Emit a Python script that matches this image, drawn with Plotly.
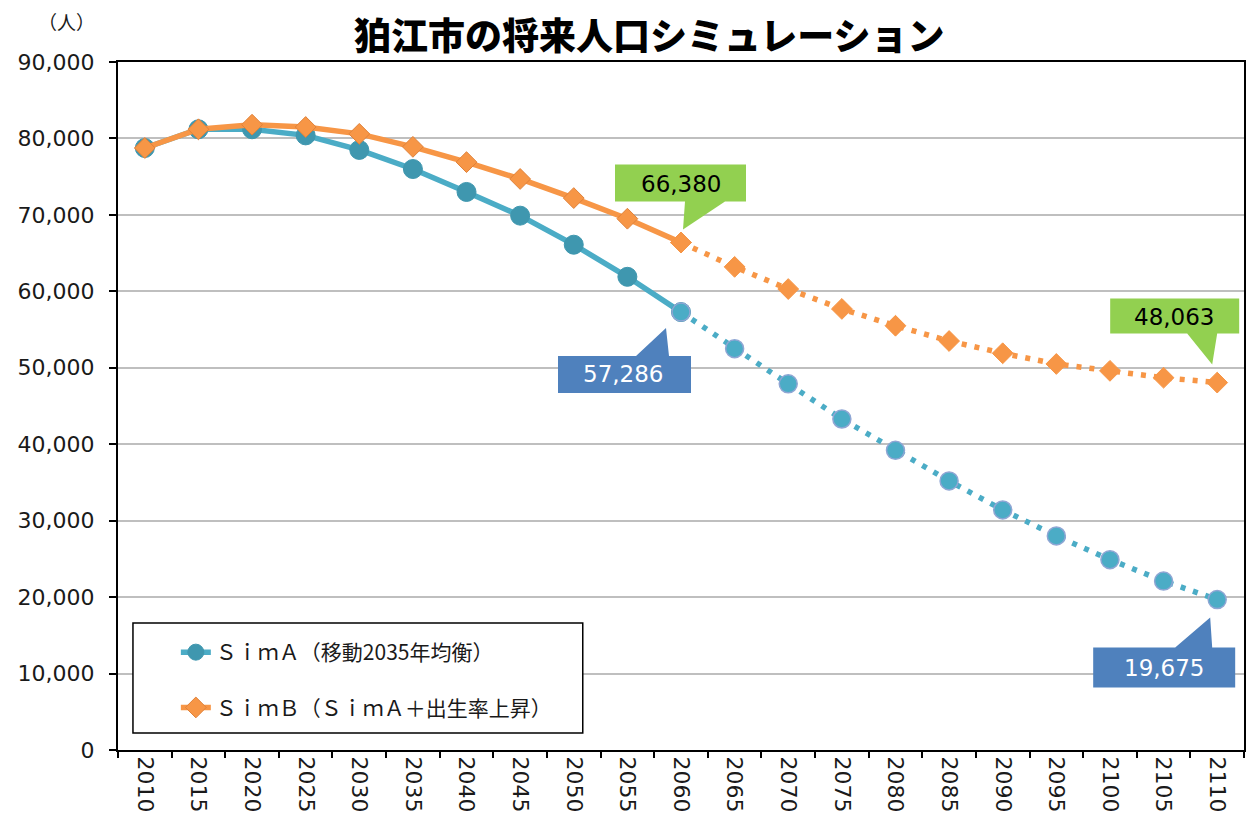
import plotly.graph_objects as go

# ---------------- data ----------------
years = ["2010", "2015", "2020", "2025", "2030", "2035", "2040", "2045", "2050", "2055", "2060",
         "2065", "2070", "2075", "2080", "2085", "2090", "2095", "2100", "2105", "2110"]
sim_a = [78750, 81200, 81200, 80400, 78500, 76000, 73000, 69900, 66100, 61900, 57286,
         52500, 47900, 43300, 39200, 35200, 31400, 28000, 24900, 22100, 19675]
sim_b = [78750, 81200, 81800, 81500, 80600, 78900, 76900, 74700, 72200, 69500, 66380,
         63200, 60300, 57700, 55500, 53500, 51900, 50500, 49600, 48700, 48063]
name_a = "ＳｉｍＡ（移動2035年均衡）"
name_b = "ＳｉｍＢ（ＳｉｍＡ＋出生率上昇）"
title_text = "狛江市の将来人口シミュレーション"
unit_text = "（人）"
split_year = "2060"
y_ticks = [0, 10000, 20000, 30000, 40000, 50000, 60000, 70000, 80000, 90000]

# ---------------- styles ----------------
OFF = 8                      # page body margin
W, H = 1256 - OFF, 828 - OFF
ML, MR, MT, MB = 117 - OFF, 10, 62 - OFF, 78
PW, PH = W - ML - MR, H - MT - MB
TEAL_LINE = "#4BACC6"
TEAL_DARK = "#3F97AF"
TEAL_EDGE = "#8FA6D4"
ORANGE = "#F79646"
ORANGE_EDGE = "#E0823A"
GREEN = "#92D050"
BLUE = "#4F81BD"
NUM_FONT = "DejaVu Sans, Noto Sans CJK JP"
TXT = "#1a1a1a"


def px_x(ref_x):
    return (ref_x - OFF - ML) / PW


def px_y(ref_y):
    return (H - MB - (ref_y - OFF)) / PH


si = years.index(split_year)
last = len(years) - 1

fig = go.Figure()

# SimA solid part
fig.add_trace(go.Scatter(
    x=years[:si + 1], y=sim_a[:si + 1], mode="lines+markers", name=name_a,
    legendgroup="a", showlegend=True,
    line=dict(color=TEAL_LINE, width=5.5),
    marker=dict(symbol="circle", size=19, color=TEAL_DARK, line=dict(color=TEAL_DARK, width=1)),
))
# SimA dotted part
fig.add_trace(go.Scatter(
    x=years[si:], y=sim_a[si:], mode="lines+markers", name=name_a,
    legendgroup="a", showlegend=False,
    line=dict(color=TEAL_LINE, width=5.5, dash="5px,8px"),
    marker=dict(symbol="circle", size=18, color=TEAL_LINE, line=dict(color=TEAL_EDGE, width=1.5)),
))
# SimB solid part
fig.add_trace(go.Scatter(
    x=years[:si + 1], y=sim_b[:si + 1], mode="lines+markers", name=name_b,
    legendgroup="b", showlegend=True,
    line=dict(color=ORANGE, width=5.5),
    marker=dict(symbol="diamond", size=16, color=ORANGE, line=dict(color=ORANGE_EDGE, width=1)),
))
# SimB dotted part
fig.add_trace(go.Scatter(
    x=years[si:], y=sim_b[si:], mode="lines+markers", name=name_b,
    legendgroup="b", showlegend=False,
    line=dict(color=ORANGE, width=5.5, dash="5px,8px"),
    marker=dict(symbol="diamond", size=16, color=ORANGE, line=dict(color=ORANGE, width=1)),
))


def callout(idx, yval, box, wedge, color, text, tcolor, toff):
    bx0, bx1, by0, by1 = box  # pixel offsets from anchor (x right, y up)
    wl, wr, wy, tx, ty = wedge
    if wy > 0:  # box above point, wedge at bottom edge
        path = (f"M {bx0},{by1} L {bx1},{by1} L {bx1},{by0} L {wr},{by0} "
                f"L {tx},{ty} L {wl},{by0} L {bx0},{by0} Z")
    else:  # box below point, wedge at top edge
        path = (f"M {bx0},{by1} L {wl},{by1} L {tx},{ty} L {wr},{by1} "
                f"L {bx1},{by1} L {bx1},{by0} L {bx0},{by0} Z")
    fig.add_shape(type="path", xref="x", yref="y", xsizemode="pixel", ysizemode="pixel",
                  xanchor=idx, yanchor=yval, path=path, fillcolor=color,
                  line=dict(width=0), layer="above")
    fig.add_annotation(x=idx, y=yval, xref="x", yref="y", text=text, showarrow=False,
                       xanchor="center", yanchor="middle",
                       xshift=toff[0], yshift=toff[1],
                       font=dict(family=NUM_FONT, size=23, color=tcolor))


callout(si, sim_b[si], (-66, 65, 41, 78), (4, 44, 41, 2, 13), GREEN,
        f"{sim_b[si]:,}", "black", (0, 59))
callout(si, sim_a[si], (-123, 10, -81, -44), (-45, -12, -44, -15, -16), BLUE,
        f"{sim_a[si]:,}", "white", (-58, -62))
callout(last, sim_b[last], (-107, 22, 49, 84), (-30, 0, 49, -5, 18), GREEN,
        f"{sim_b[last]:,}", "black", (-43, 66))
callout(last, sim_a[last], (-124, 18, -88, -48), (-42, -5, -48, -7, -18), BLUE,
        f"{sim_a[last]:,}", "white", (-53, -68))

# legend box
fig.add_shape(type="rect", xref="paper", yref="paper",
              x0=px_x(132), x1=px_x(583), y0=px_y(733), y1=px_y(623),
              fillcolor="white", line=dict(color="black", width=1.5), layer="above")

# unit label
fig.add_annotation(xref="paper", yref="paper", x=px_x(65), y=px_y(22),
                   xanchor="center", yanchor="middle",
                   text=unit_text, showarrow=False,
                   font=dict(family="Noto Sans CJK JP", size=19, color=TXT))

# title
fig.add_annotation(xref="paper", yref="paper", x=px_x(650), y=px_y(34),
                   xanchor="center", yanchor="middle", showarrow=False,
                   text=title_text,
                   font=dict(family="Noto Sans CJK JP", size=37, color="black", weight=900))

fig.update_layout(
    width=W, height=H,
    margin=dict(l=ML, r=MR, t=MT, b=MB, pad=0),
    paper_bgcolor="white", plot_bgcolor="white",
    legend=dict(x=px_x(175), y=px_y(632), xanchor="left", yanchor="top",
                bgcolor="rgba(0,0,0,0)", borderwidth=0, tracegroupgap=25,
                font=dict(family="Noto Sans CJK JP, DejaVu Sans", size=21, color=TXT)),
    xaxis=dict(type="category", categoryorder="array", categoryarray=years,
               range=[-0.5, len(years) - 0.5],
               tickson="boundaries", ticks="outside", ticklen=6, tickwidth=2, tickcolor="black",
               tickangle=90, showline=True, linecolor="black", linewidth=2, mirror=True,
               showgrid=False, tickfont=dict(family=NUM_FONT, size=22, color=TXT)),
    yaxis=dict(range=[0, 90000], tickvals=y_ticks, tickformat=",", ticks="outside", ticklen=7,
               tickwidth=2, tickcolor="black", showline=True, linecolor="black", linewidth=2,
               mirror=True, showgrid=True, gridcolor="#BFBFBF", gridwidth=2, zeroline=False,
               ticklabelstandoff=10,
               tickfont=dict(family=NUM_FONT, size=22, color=TXT)),
)

fig.write_html("out.html")
